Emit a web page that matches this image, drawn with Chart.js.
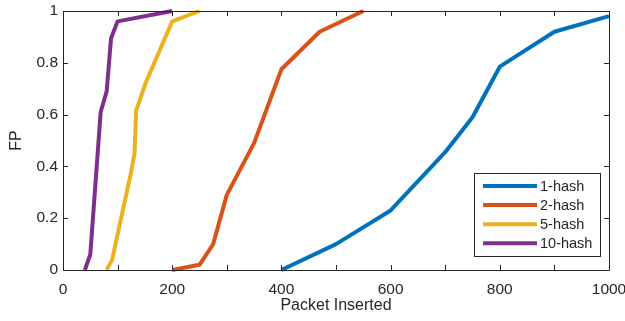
<!DOCTYPE html>
<html>
<head>
<meta charset="utf-8">
<script src="https://cdn.jsdelivr.net/npm/chart.js@4/dist/chart.umd.min.js"></script>
<style>
  html, body { margin: 0; padding: 0; background: #ffffff; }
  #wrap { width: 625px; height: 321px; }
</style>
</head>
<body>
<div id="wrap"><canvas id="c" width="625" height="321"></canvas></div>
<script>
// ---- data ----
const seriesLabels = ['1-hash', '2-hash', '5-hash', '10-hash'];
const seriesColors = ['#0072BD', '#D95319', '#EDB120', '#7E2F8E'];

const hash1X = [400, 500, 600, 700, 750, 800, 900, 1000];
const hash1Y = [0, 0.1, 0.23, 0.455, 0.59, 0.785, 0.92, 0.98];

const hash2X = [200, 250, 275, 300, 350, 400, 470, 550];
const hash2Y = [0, 0.02, 0.1, 0.29, 0.49, 0.775, 0.92, 1];

const hash5X = [80, 90, 124, 131, 134, 151, 200, 250];
const hash5Y = [0, 0.04, 0.37, 0.45, 0.615, 0.72, 0.96, 1];

const hash10X = [40, 50, 69, 80, 88, 100, 200];
const hash10Y = [0, 0.06, 0.61, 0.69, 0.895, 0.96, 1];

const xTickLabels = [0, 200, 400, 600, 800, 1000];
const yTickLabels = [0, 0.2, 0.4, 0.6, 0.8, 1];

const xTitle = 'Packet Inserted';
const yTitle = 'FP';

// ---- build ----
const FONT = "'Liberation Sans', Arial, Helvetica, sans-serif";
const TXT = '#262626';
const xs = [hash1X, hash2X, hash5X, hash10X];
const ys = [hash1Y, hash2Y, hash5Y, hash10Y];

const datasets = seriesLabels.map((lab, i) => ({
  label: lab,
  data: xs[i].map((x, j) => ({ x: x, y: ys[i][j] })),
  borderColor: seriesColors[i],
  backgroundColor: seriesColors[i],
  borderWidth: 4,
  pointRadius: 0,
  pointHoverRadius: 0,
  tension: 0,
  fill: false,
  clip: false,
  borderJoinStyle: 'round',
  borderCapStyle: 'butt'
}));

const matlabFrame = {
  id: 'matlabFrame',
  afterDatasetsDraw(chart) {
    const { ctx, chartArea: a, scales } = chart;
    const tl = 5;
    ctx.save();
    ctx.strokeStyle = TXT;
    ctx.lineWidth = 1;
    ctx.beginPath();
    ctx.rect(Math.round(a.left) + 0.5, Math.round(a.top) + 0.5,
             Math.round(a.right - a.left), Math.round(a.bottom - a.top));
    ctx.stroke();
    ctx.beginPath();
    scales.x.ticks.forEach(t => {
      const px = Math.round(scales.x.getPixelForValue(t.value)) + 0.5;
      ctx.moveTo(px, a.bottom); ctx.lineTo(px, a.bottom - tl);
      ctx.moveTo(px, a.top); ctx.lineTo(px, a.top + tl);
    });
    scales.y.ticks.forEach(t => {
      const py = Math.round(scales.y.getPixelForValue(t.value)) + 0.5;
      ctx.moveTo(a.left, py); ctx.lineTo(a.left + tl, py);
      ctx.moveTo(a.right, py); ctx.lineTo(a.right - tl, py);
    });
    ctx.stroke();

    // legend box (inside axes, south-east)
    const bw = 126, bh = 83;
    const bx = Math.round(a.right - 9 - bw) + 0.5;
    const by = Math.round(a.bottom - 14 - bh) + 0.5;
    ctx.fillStyle = '#ffffff';
    ctx.fillRect(bx, by, bw, bh);
    ctx.strokeStyle = TXT;
    ctx.lineWidth = 1;
    ctx.strokeRect(bx, by, bw, bh);
    ctx.font = '14.5px ' + FONT;
    ctx.textBaseline = 'middle';
    ctx.textAlign = 'left';
    chart.data.datasets.forEach((ds, i) => {
      const cy = by + 12.5 + i * 19.1;
      ctx.strokeStyle = ds.borderColor;
      ctx.lineWidth = 4;
      ctx.beginPath();
      ctx.moveTo(bx + 8.5, cy);
      ctx.lineTo(bx + 62.5, cy);
      ctx.stroke();
      ctx.fillStyle = TXT;
      ctx.fillText(ds.label, bx + 65.5, cy + 0.5);
    });
    ctx.restore();
  }
};

new Chart(document.getElementById('c'), {
  type: 'line',
  data: { datasets: datasets },
  options: {
    responsive: false,
    animation: false,
    devicePixelRatio: 1,
    layout: { padding: { top: 11, right: 16, left: 0, bottom: 0 } },
    plugins: { legend: { display: false }, tooltip: { enabled: false } },
    scales: {
      x: {
        type: 'linear',
        min: 0, max: 1000,
        afterFit(s) { s.height = 51; s.paddingLeft = 0; s.paddingRight = 0; },
        grid: { display: false, drawTicks: false },
        border: { display: false },
        ticks: {
          stepSize: 100,
          autoSkip: false,
          maxRotation: 0,
          padding: 10,
          color: TXT,
          font: { family: FONT, size: 15.5 },
          callback: v => (xTickLabels.includes(v) ? String(v) : '')
        },
        title: {
          display: true, text: xTitle, color: TXT,
          font: { family: FONT, size: 16 },
          padding: { top: 0, bottom: 6 }
        }
      },
      y: {
        type: 'linear',
        min: 0, max: 1,
        afterFit(s) { s.width = 63; s.paddingTop = 0; s.paddingBottom = 0; },
        grid: { display: false, drawTicks: false },
        border: { display: false },
        ticks: {
          stepSize: 0.2,
          autoSkip: false,
          padding: 5,
          color: TXT,
          font: { family: FONT, size: 15.5 },
          callback: v => {
            const r = Math.round(v * 10) / 10;
            return yTickLabels.includes(r) ? String(r) : '';
          }
        },
        title: {
          display: true, text: yTitle, color: TXT,
          font: { family: FONT, size: 16 },
          padding: { top: 7, bottom: 0 }
        }
      }
    }
  },
  plugins: [matlabFrame]
});
</script>
</body>
</html>
